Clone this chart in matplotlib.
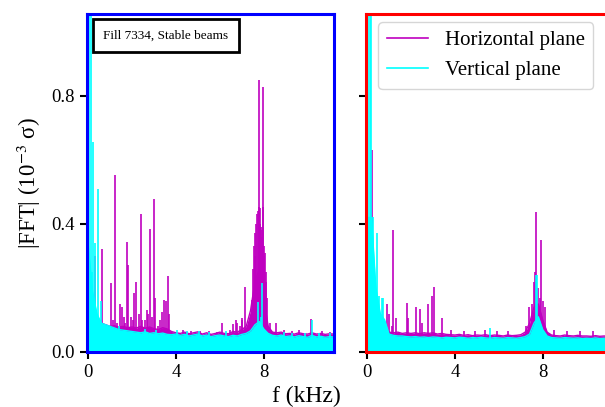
import numpy as np
import matplotlib
matplotlib.use("Agg")
import matplotlib.pyplot as plt
from matplotlib.lines import Line2D

plt.rcParams['font.family'] = ['Liberation Serif', 'DejaVu Serif']
plt.rcParams['mathtext.fontset'] = 'stix'

# ---------------- data ----------------
# coarse floor (noise level) sampled every 0.2 kHz, 0 .. 11.2 kHz
floor_f = np.round(np.arange(0, 11.21, 0.2), 1)

left_h_floor = [0.30, 0.17, 0.11, 0.09, 0.085, 0.08, 0.082, 0.078, 0.08, 0.076,
                0.078, 0.075, 0.08, 0.074, 0.078, 0.073, 0.07, 0.076, 0.072, 0.064,
                0.06, 0.058, 0.062, 0.057, 0.06, 0.063, 0.056, 0.06, 0.055, 0.058,
                0.062, 0.058, 0.057, 0.064, 0.062, 0.07, 0.08, 0.13, 0.22, 0.26,
                0.17, 0.08, 0.062, 0.06, 0.062, 0.057, 0.058, 0.056, 0.06, 0.057,
                0.056, 0.06, 0.056, 0.058, 0.055, 0.057, 0.056]
left_v_floor = [0.34, 0.19, 0.12, 0.09, 0.085, 0.08, 0.075, 0.07, 0.068, 0.066,
                0.064, 0.062, 0.06, 0.063, 0.058, 0.06, 0.057, 0.059, 0.055, 0.054,
                0.056, 0.052, 0.055, 0.05, 0.053, 0.056, 0.05, 0.053, 0.048, 0.051,
                0.053, 0.05, 0.048, 0.052, 0.05, 0.055, 0.058, 0.066, 0.085, 0.095,
                0.072, 0.058, 0.052, 0.05, 0.053, 0.048, 0.05, 0.047, 0.051, 0.048,
                0.046, 0.052, 0.047, 0.049, 0.046, 0.048, 0.047]
right_h_floor = [0.40, 0.30, 0.15, 0.09, 0.075, 0.062, 0.06, 0.062, 0.058, 0.06,
                 0.058, 0.06, 0.057, 0.06, 0.058, 0.06, 0.056, 0.058, 0.055, 0.054,
                 0.053, 0.055, 0.052, 0.054, 0.051, 0.053, 0.052, 0.054, 0.051, 0.053,
                 0.052, 0.05, 0.053, 0.051, 0.052, 0.054, 0.062, 0.09, 0.14, 0.15,
                 0.10, 0.062, 0.053, 0.051, 0.05, 0.053, 0.051, 0.05, 0.052, 0.05,
                 0.05, 0.049, 0.051, 0.049, 0.05, 0.049, 0.05]
right_v_floor = [0.42, 0.42, 0.20, 0.12, 0.10, 0.056, 0.052, 0.05, 0.05, 0.048,
                 0.047, 0.048, 0.046, 0.047, 0.045, 0.047, 0.046, 0.044, 0.046, 0.045,
                 0.044, 0.046, 0.045, 0.043, 0.045, 0.044, 0.046, 0.044, 0.043, 0.045,
                 0.044, 0.043, 0.045, 0.044, 0.043, 0.045, 0.048, 0.056, 0.09, 0.11,
                 0.07, 0.05, 0.045, 0.044, 0.043, 0.045, 0.044, 0.043, 0.044, 0.042,
                 0.043, 0.042, 0.044, 0.042, 0.043, 0.042, 0.043]

# spectral lines (frequency in kHz, amplitude)
left_h_pk_f = [0.31, 0.62, 0.85, 0.92, 1.03, 1.12, 1.23, 1.32, 1.45, 1.53, 1.62, 1.68, 1.79,
               1.84, 1.95, 2.05, 2.11, 2.20, 2.30, 2.40, 2.45, 2.57, 2.67, 2.72, 2.81,
               2.90, 3.01, 3.06, 3.20, 3.28, 3.38, 3.47, 3.57, 3.66, 3.70, 4.3, 4.7,
               5.09, 5.5, 5.88, 6.12, 6.45, 6.58, 6.73, 6.78, 6.91, 7.00, 7.03, 7.14,
               7.40, 7.48, 7.52, 7.56, 7.58, 7.62, 7.66, 7.70, 7.73, 7.77, 7.79, 7.82,
               7.84, 7.86, 7.90, 7.92, 7.95, 7.98, 8.01, 8.03, 8.06, 8.09, 8.12, 8.17,
               8.30, 8.58, 8.9, 9.3, 9.59, 10.17, 10.65, 11.0]
left_h_pk_a = [0.30, 0.32, 0.085, 0.08, 0.215, 0.10, 0.553, 0.09, 0.15, 0.14, 0.11, 0.09, 0.342,
               0.27, 0.11, 0.10, 0.185, 0.22, 0.12, 0.43, 0.10, 0.10, 0.13, 0.12, 0.383,
               0.11, 0.477, 0.17, 0.08, 0.10, 0.126, 0.162, 0.16, 0.237, 0.12, 0.068, 0.066,
               0.066, 0.064, 0.062, 0.09, 0.07, 0.088, 0.10, 0.09, 0.08, 0.10, 0.105, 0.204,
               0.105, 0.163, 0.26, 0.33, 0.30, 0.37, 0.40, 0.43, 0.44, 0.848, 0.454, 0.40,
               0.45, 0.39, 0.36, 0.38, 0.827, 0.454, 0.33, 0.30, 0.31, 0.25, 0.22, 0.17,
               0.09, 0.09, 0.068, 0.066, 0.07, 0.104, 0.065, 0.062]
left_v_pk_f = [0.06, 0.12, 0.18, 0.24, 0.33, 0.455, 0.58, 1.4, 2.6, 3.1, 4.05, 4.5, 5.05,
               5.5, 6.3, 7.74, 7.86, 7.94, 8.9, 9.3, 9.9, 10.18, 10.5, 11.0]
left_v_pk_a = [1.2, 1.2, 0.25, 0.655, 0.34, 0.51, 0.16, 0.08, 0.072, 0.07, 0.068, 0.065, 0.066,
               0.062, 0.064, 0.157, 0.11, 0.215, 0.062, 0.06, 0.06, 0.10, 0.058, 0.058]

right_h_pk_f = [0.24, 0.36, 0.89, 1.02, 1.15, 1.20, 1.30, 1.80, 1.86, 2.23, 2.41, 2.50,
                2.78, 2.95, 3.05, 3.39, 3.8, 4.4, 4.9, 5.36, 5.9, 6.4, 7.24, 7.38, 7.50,
                7.60, 7.65, 7.71, 7.80, 7.86, 7.94, 8.02, 8.09, 8.5, 9.1, 9.7, 10.3, 10.9]
right_h_pk_a = [0.63, 0.16, 0.149, 0.12, 0.08, 0.381, 0.105, 0.154, 0.105, 0.142, 0.133, 0.09,
                0.15, 0.175, 0.204, 0.105, 0.07, 0.067, 0.065, 0.07, 0.066, 0.064, 0.08, 0.142,
                0.15, 0.22, 0.251, 0.437, 0.20, 0.17, 0.35, 0.16, 0.142, 0.068, 0.066, 0.067,
                0.064, 0.066]
right_v_pk_f = [0.06, 0.12, 0.18, 0.26, 0.32, 0.44, 0.52, 0.68, 0.74, 5.6, 7.68, 7.76]
right_v_pk_a = [1.2, 1.2, 1.2, 0.42, 0.22, 0.37, 0.175, 0.167, 0.167, 0.075, 0.24, 0.24]

# ---------------- figure ----------------
MAG = '#bf00bf'
CYA = '#00ffff'

fig = plt.figure(figsize=(6.05, 4.07), dpi=100)
axL = fig.add_axes([87 / 605, 55 / 407, 247 / 605, 338 / 407])
axR = fig.add_axes([366 / 605, 55 / 407, 247 / 605, 338 / 407])


def draw(ax, hf, vf, hpf, hpa, vpf, vpa, spine_color):
    ax.fill_between(floor_f, 0, hf, color=MAG, lw=0, zorder=1)
    ax.plot(floor_f, hf, color=MAG, lw=1.0, zorder=1.1)
    ax.vlines(hpf, 0, hpa, color=MAG, lw=1.2, zorder=1.2)
    ax.fill_between(floor_f, 0, vf, color=CYA, lw=0, zorder=2)
    ax.plot(floor_f, vf, color=CYA, lw=1.0, zorder=2.1)
    ax.vlines(vpf, 0, vpa, color=CYA, lw=1.2, zorder=2.2)
    ax.set_xlim(-0.05, 11.2)
    ax.set_ylim(0, 1.055)
    ax.set_xticks([0, 4, 8])
    ax.set_yticks([0.0, 0.4, 0.8])
    for s in ax.spines.values():
        s.set_color(spine_color)
        s.set_linewidth(2.2)
        s.set_zorder(5)
    ax.tick_params(direction='out', length=5, width=1.5, labelsize=13.5, color='black')


draw(axL, left_h_floor, left_v_floor, left_h_pk_f, left_h_pk_a,
     left_v_pk_f, left_v_pk_a, '#0000ff')
draw(axR, right_h_floor, right_v_floor, right_h_pk_f, right_h_pk_a,
     right_v_pk_f, right_v_pk_a, '#ff0000')
axR.set_yticklabels([])

axL.set_ylabel('|FFT| (10$^{-3}$ σ)', fontsize=16.5, labelpad=6)
axL.text(0.32, 0.936, 'Fill 7334, Stable beams', transform=axL.transAxes,
         ha='center', va='center', fontsize=9.5, zorder=6,
         bbox=dict(boxstyle='square,pad=0.8', facecolor='white', edgecolor='black', lw=2))

handles = [Line2D([], [], color=MAG, lw=1.2), Line2D([], [], color=CYA, lw=1.2)]
leg = axR.legend(handles, ['Horizontal plane', 'Vertical plane'], loc='upper left',
                 bbox_to_anchor=(0.05, 0.975), borderaxespad=0, fontsize=15,
                 handlelength=2.0, framealpha=0.8)
leg.set_zorder(6)

fig.text(0.506, 0.027, 'f (kHz)', ha='center', va='center', fontsize=17)

fig.savefig('out.png', dpi=100)
